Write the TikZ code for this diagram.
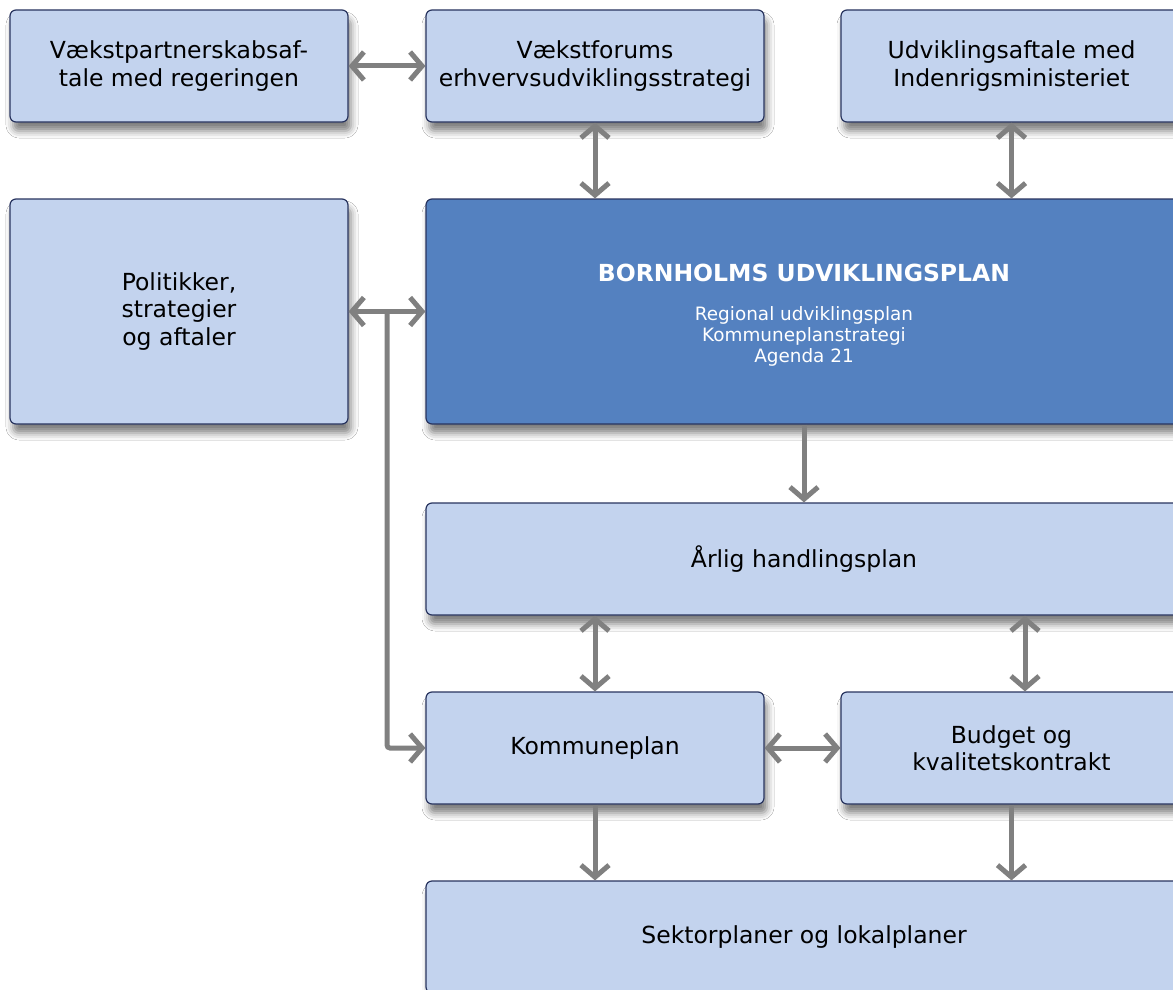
\documentclass[tikz,border=0pt]{standalone}
\usepackage{fontspec}
\setmainfont{DejaVu Sans}
\usetikzlibrary{arrows.meta,shadows.blur,calc}
\definecolor{lightbox}{RGB}{195,211,238}
\definecolor{darkbox}{RGB}{84,129,192}
\definecolor{boxborder}{RGB}{40,52,95}
\definecolor{arrowgray}{RGB}{128,128,128}
\newcommand\titlefont{\bfseries\fontsize{23.5}{28}\selectfont}
\tikzset{
  box/.style={draw=boxborder, line width=1.2pt, rounded corners=6pt, fill=lightbox,
    blur shadow={shadow xshift=3pt, shadow yshift=-9pt, shadow blur radius=7pt, shadow opacity=50},
    align=center, text=black, inner sep=0pt, font=\fontsize{23.5}{27.5}\selectfont},
  darkbx/.style={box, fill=darkbox, text=white, font=\fontsize{18.4}{21}\selectfont},
  conn/.style={draw=arrowgray, line width=5pt},
  >={Straight Barb[length=12pt,width=28pt]}
}
\begin{document}
\begin{tikzpicture}[x=1pt,y=-1pt]
\useasboundingbox (0,0) rectangle (1173,990);
\clip (0,0) rectangle (1173,990);
\fill[white] (0,0) rectangle (1173,990);

\node[box, minimum width=338pt, minimum height=112pt] (A) at (179,66) {Vækstpartnerskabsaf-\\tale med regeringen};
\node[box, minimum width=338pt, minimum height=112pt] (B) at (595,66) {Vækstforums\\erhvervsudviklingsstrategi};
\node[box, minimum width=341pt, minimum height=112pt] (C) at (1011.5,66) {Udviklingsaftale med\\Indenrigsministeriet};
\node[box, minimum width=338pt, minimum height=225pt] (D) at (179,311.5) {Politikker,\\strategier\\og aftaler};
\node[darkbx, minimum width=756pt, minimum height=225pt] (E) at (804,311.5)
  {\titlefont\rule{0pt}{24pt}BORNHOLMS UDVIKLINGSPLAN\\[18pt]
   Regional udviklingsplan\\Kommuneplanstrategi\\Agenda 21};
\node[box, minimum width=756pt, minimum height=112pt] (F) at (804,559) {Årlig handlingsplan};
\node[box, minimum width=338pt, minimum height=112pt] (G) at (595,748) {Kommuneplan};
\node[box, minimum width=341pt, minimum height=112pt] (H) at (1011.5,748) {Budget og\\kvalitetskontrakt};
\node[box, minimum width=756pt, minimum height=112pt] (I) at (804,937) {Sektorplaner og lokalplaner};

\coordinate (j) at ($(D.east)!0.5!(E.west)$);
\coordinate (fh) at ($(H.north)+(13.5,0)$);

\draw[conn, <->] (A.east) -- (B.west);
\draw[conn, <->] (B.south) -- (B.south |- E.north);
\draw[conn, <->] (C.south) -- (C.south |- E.north);
\draw[conn, <->] (D.east) -- (E.west);
\draw[conn, ->, rounded corners=3pt] (j) |- (G.west);
\draw[conn, ->] (E.south) -- (F.north);
\draw[conn, <->] (G.north |- F.south) -- (G.north);
\draw[conn, <->] (fh |- F.south) -- (fh);
\draw[conn, <->] (G.east) -- (H.west);
\draw[conn, ->] (G.south) -- (G.south |- I.north);
\draw[conn, ->] (H.south) -- (H.south |- I.north);
\end{tikzpicture}
\end{document}
